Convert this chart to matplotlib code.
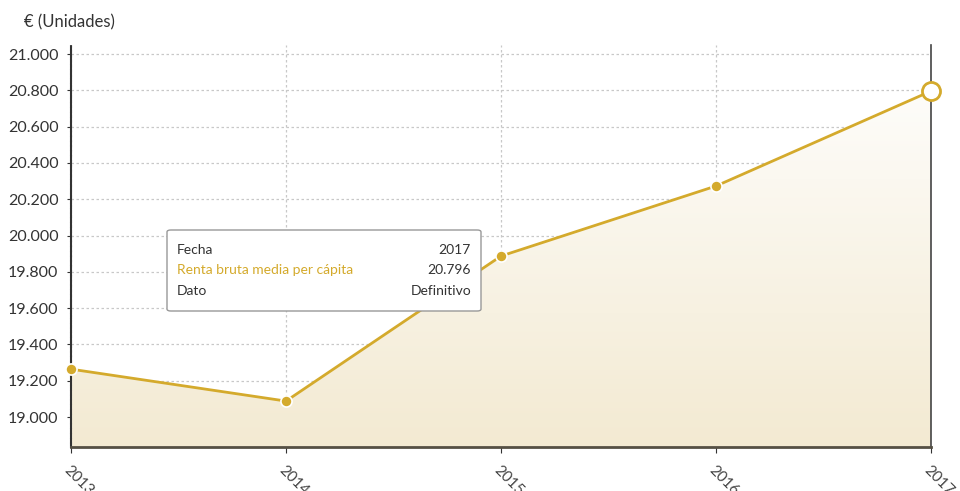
import numpy as np
import matplotlib.pyplot as plt
from matplotlib.patches import FancyBboxPatch, Polygon

plt.rcParams['font.family'] = ['Lato', 'DejaVu Sans']

years = [2013, 2014, 2015, 2016, 2017]
renta = [19264, 19088, 19887, 20273, 20796]
y_ticks = [19000, 19200, 19400, 19600, 19800, 20000, 20200, 20400, 20600, 20800, 21000]

gold = '#d4aa2c'
W, H = 960, 491

fig = plt.figure(figsize=(9.6, 4.91), dpi=100)
ax = fig.add_axes([71 / W, 44 / H, 860 / W, 402 / H])

ymin, ymax = 18835, 21050
ax.set_xlim(years[0], years[-1])
ax.set_ylim(ymin, ymax)

# gradient fill under the line (white at top -> beige at bottom)
grad = np.linspace(0, 1, 256).reshape(-1, 1)
top_c = np.array([1.0, 1.0, 1.0])
bot_c = np.array([0xf3, 0xea, 0xd2]) / 255
img = top_c + (bot_c - top_c) * grad[..., None]
im = ax.imshow(img, extent=[years[0], years[-1], ymin, ymax], origin='upper',
               aspect='auto', zorder=1)
poly = Polygon(list(zip(years, renta)) + [(years[-1], ymin), (years[0], ymin)],
               closed=True, transform=ax.transData, facecolor='none', edgecolor='none')
ax.add_patch(poly)
im.set_clip_path(poly)

ax.plot(years, renta, color=gold, lw=2, zorder=3, clip_on=False)
ax.plot(years[:-1], renta[:-1], 'o', ms=8, color=gold, mec='white', mew=1.2,
        zorder=4, clip_on=False)
ax.plot(years[-1:], renta[-1:], 'o', ms=13, mfc='white', mec=gold, mew=2,
        zorder=5, clip_on=False)

ax.set_xticks(years)
ax.set_xticklabels([str(y) for y in years], rotation=-45, ha='left', va='top',
                   rotation_mode='anchor', fontsize=11, color='#444444')
ax.set_yticks(y_ticks)
ax.set_yticklabels([f'{v / 1000:.3f}' for v in y_ticks], fontsize=11.5, color='#333333')
ax.tick_params(axis='y', length=3, color='#333333', pad=6)
ax.tick_params(axis='x', length=4, color='#333333', pad=8)

ax.grid(True, color='#c8c8c8', ls=(0, (2, 2)), lw=0.9)
ax.set_axisbelow(True)
ax.spines['top'].set_visible(False)
ax.spines['left'].set_color('#333333')
ax.spines['left'].set_linestyle((0, (1.5, 0.8)))
ax.spines['left'].set_linewidth(1.5)
ax.spines['bottom'].set_color('#555044')
ax.spines['bottom'].set_linewidth(2)
ax.spines['right'].set_color('#444444')
ax.spines['right'].set_linewidth(1.2)

fig.text(24 / W, 1 - 22 / H, '€ (Unidades)', fontsize=12, color='#333333',
         ha='left', va='center')

# tooltip
box = FancyBboxPatch((167 / W, 1 - 311 / H), 314 / W, 81 / H,
                     boxstyle='round,pad=0,rounding_size=0.004',
                     transform=fig.transFigure, facecolor='white',
                     edgecolor='#999999', lw=1, zorder=10)
fig.patches.append(box)
rows = [('Fecha', '2017', '#333333'),
        ('Renta bruta media per cápita', '20.796', gold),
        ('Dato', 'Definitivo', '#333333')]
for i, (lab, val, c) in enumerate(rows):
    yy = 1 - (250 + i * 20.5) / H
    fig.text(177 / W, yy, lab, fontsize=10, color=c, ha='left', va='center', zorder=11)
    fig.text(471 / W, yy, val, fontsize=10, color='#333333', ha='right', va='center', zorder=11)

fig.savefig('out.png', dpi=100)
